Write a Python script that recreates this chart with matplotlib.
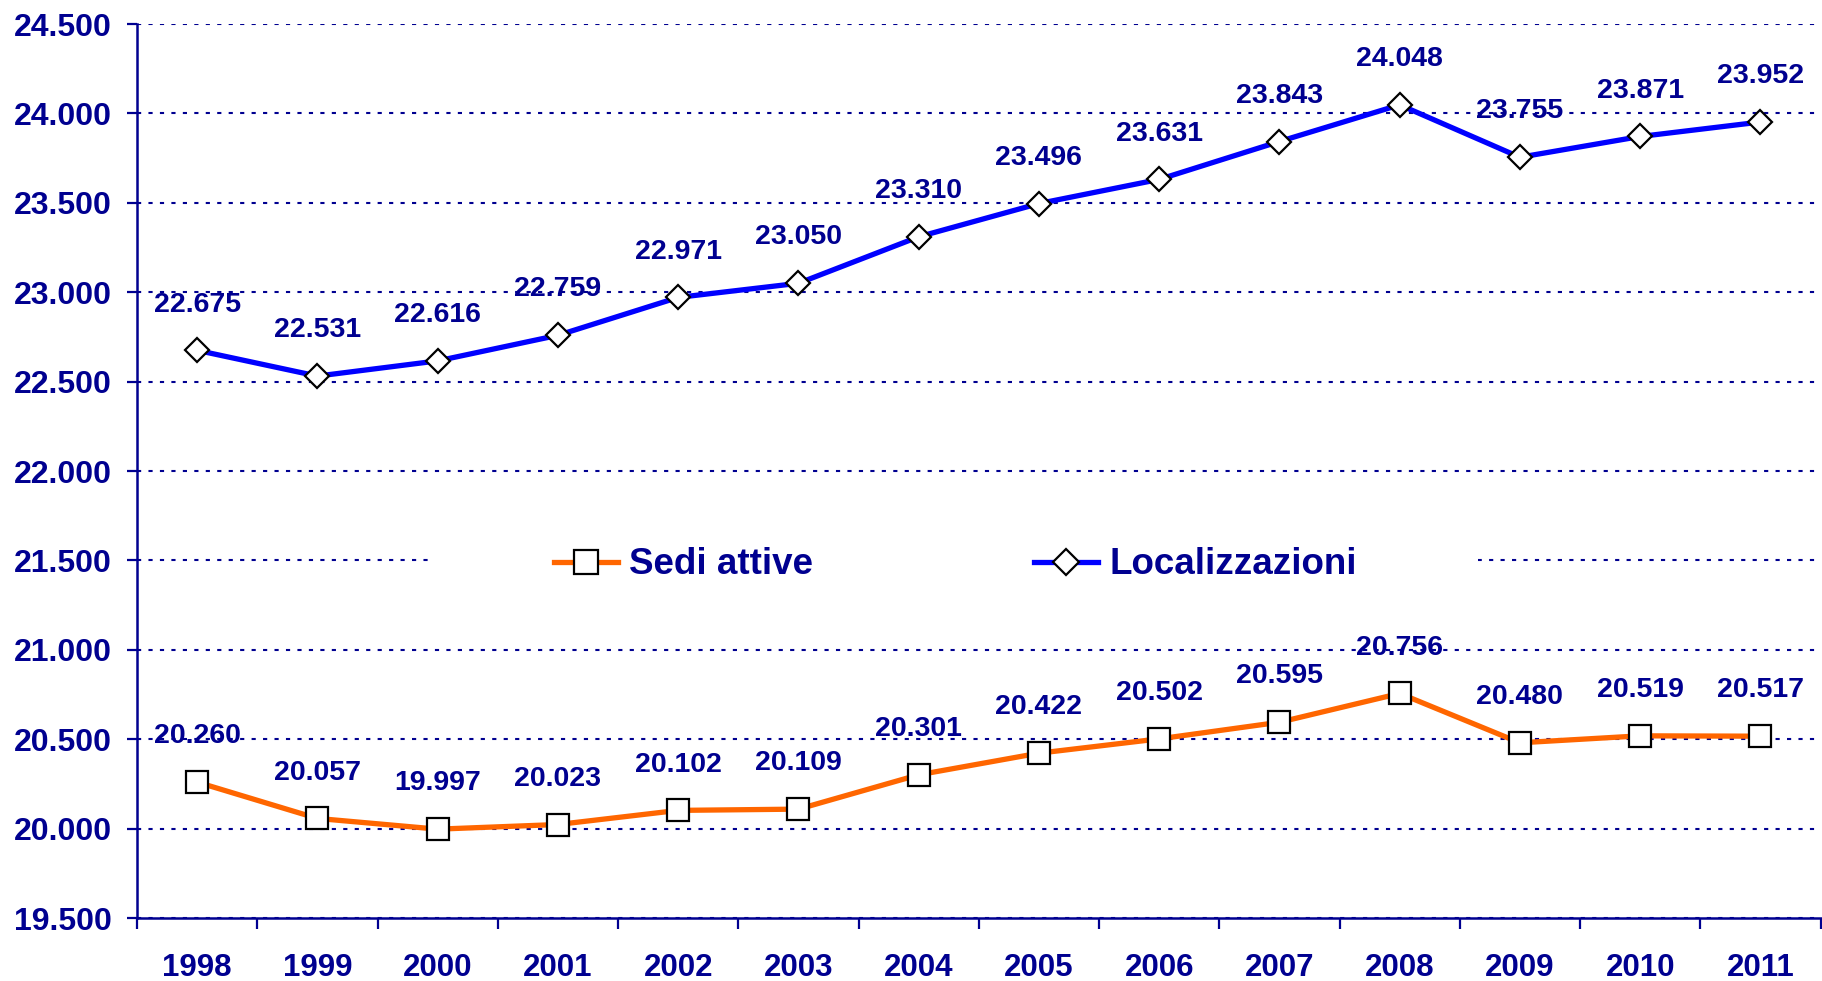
import matplotlib
matplotlib.use("Agg")
import matplotlib.pyplot as plt
from matplotlib.ticker import FuncFormatter, MultipleLocator, FixedLocator

years = ["1998", "1999", "2000", "2001", "2002", "2003", "2004",
         "2005", "2006", "2007", "2008", "2009", "2010", "2011"]
sedi_attive = [20260, 20057, 19997, 20023, 20102, 20109, 20301,
               20422, 20502, 20595, 20756, 20480, 20519, 20517]
localizzazioni = [22675, 22531, 22616, 22759, 22971, 23050, 23310,
                  23496, 23631, 23843, 24048, 23755, 23871, 23952]

navy = "#000090"
plt.rcParams["font.family"] = ["Liberation Sans", "DejaVu Sans"]
plt.rcParams["font.weight"] = "bold"


def it_fmt(v, pos=None):
    return f"{int(round(v)):,}".replace(",", ".")


fig = plt.figure(figsize=(18.22, 9.81), dpi=100)
ax = fig.add_axes([0.0752, 0.0642, 0.924, 0.9113])

x = list(range(len(years)))
ax.plot(x, sedi_attive, color="#FF6600", lw=3.8, marker="s", ms=16,
        mfc="white", mec="black", mew=1.6, label="Sedi attive", zorder=3)
ax.plot(x, localizzazioni, color="#0000FF", lw=3.8, marker="D", ms=12.5,
        mfc="white", mec="black", mew=1.6, label="Localizzazioni", zorder=3)

for xi, v in zip(x, sedi_attive):
    ax.annotate(it_fmt(v), (xi, v), xytext=(0, 33), textcoords="offset points",
                ha="center", va="center", fontsize=20.5, color=navy, fontweight="bold")
for xi, v in zip(x, localizzazioni):
    ax.annotate(it_fmt(v), (xi, v), xytext=(0, 33), textcoords="offset points",
                ha="center", va="center", fontsize=20.5, color=navy, fontweight="bold")

ax.set_xlim(-0.5, len(years) - 0.5)
ax.set_ylim(19500, 24500)
ax.yaxis.set_major_locator(MultipleLocator(500))
ax.yaxis.set_major_formatter(FuncFormatter(it_fmt))
ax.set_xticks(x)
ax.set_xticklabels(years)
ax.xaxis.set_minor_locator(FixedLocator([i - 0.5 for i in range(len(years) + 1)]))

ax.tick_params(axis="x", which="major", length=0, pad=25, labelsize=22.5, labelcolor=navy)
ax.tick_params(axis="x", which="minor", length=8, width=1.6, color=navy, direction="out")
ax.tick_params(axis="y", which="major", length=7, width=1.6, color=navy, pad=11,
               labelsize=23, labelcolor=navy)
for lab in ax.get_xticklabels() + ax.get_yticklabels():
    lab.set_fontweight("bold")

for side in ["top", "right"]:
    ax.spines[side].set_visible(False)
for side in ["left", "bottom"]:
    ax.spines[side].set_color(navy)
    ax.spines[side].set_linewidth(1.8)

ax.yaxis.grid(True, color=navy, lw=1.5, linestyle=(0, (2, 3.5)), zorder=1)
ax.set_axisbelow(True)

leg = ax.legend(loc="center", bbox_to_anchor=(0.486, 0.395), ncol=2, fontsize=26.5,
                frameon=True, framealpha=1, facecolor="white", edgecolor="none",
                handlelength=1.75, handletextpad=0.3, columnspacing=6.0, borderpad=0.3,
                fancybox=False, markerscale=1.05)
frame = leg.get_frame()
frame.set_boxstyle("square", pad=3.0)
frame.set_mutation_aspect(0.12)
for t in leg.get_texts():
    t.set_color(navy)
    t.set_fontweight("bold")

fig.savefig("out.png", dpi=100, facecolor="white")
